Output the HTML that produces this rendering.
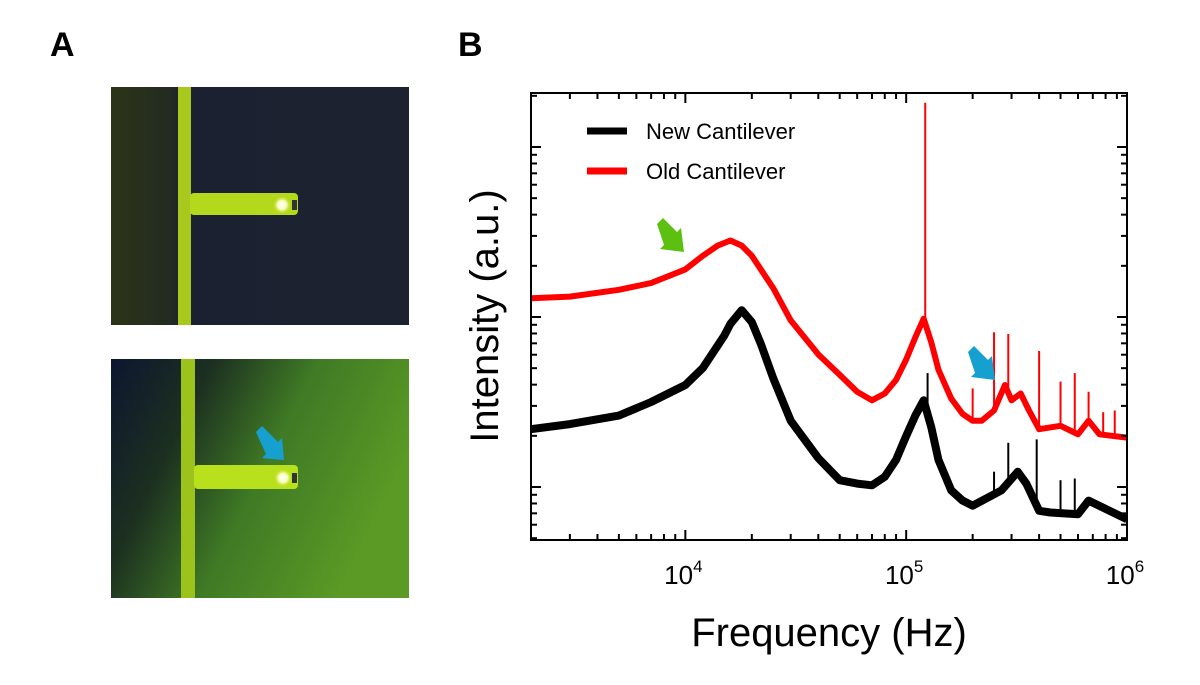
<!DOCTYPE html>
<html><head><meta charset="utf-8"><style>
body{margin:0;background:#fff;width:1200px;height:685px;overflow:hidden;font-family:"Liberation Sans",sans-serif}
.lbl{position:absolute;font-weight:bold;font-size:34px}
</style></head><body>
<div class="lbl" style="left:50px;top:26px">A</div>
<div class="lbl" style="left:458px;top:26px">B</div>
<svg width="1200" height="685" style="position:absolute;left:0;top:0">
<defs>
<linearGradient id="tl" x1="0" x2="1"><stop offset="0" stop-color="#2c3418"/><stop offset="0.2" stop-color="#232b22"/><stop offset="0.25" stop-color="#1b2130"/><stop offset="1" stop-color="#1c2230"/></linearGradient>
<linearGradient id="bl" x1="0" y1="0" x2="1" y2="0.4"><stop offset="0" stop-color="#0d1530"/><stop offset="0.3" stop-color="#1c3020"/><stop offset="0.6" stop-color="#3f7a25"/><stop offset="1" stop-color="#5a9a25"/></linearGradient>
<radialGradient id="spot"><stop offset="0" stop-color="#fff"/><stop offset="0.5" stop-color="#f8ffc0"/><stop offset="1" stop-color="#c8e020" stop-opacity="0"/></radialGradient>
</defs>
<g>
<rect x="111" y="87" width="298" height="238" fill="url(#tl)"/>
<rect x="178" y="87" width="13" height="238" fill="#a8c81e"/>
<rect x="190" y="193" width="108" height="22" rx="4" fill="#b4d81c"/>
<circle cx="282" cy="205" r="9" fill="url(#spot)"/>
<rect x="292" y="200" width="5" height="10" fill="#333"/>
</g>
<g>
<rect x="111" y="359" width="298" height="239" fill="url(#bl)"/>
<rect x="181" y="359" width="14" height="239" fill="#9cc21c"/>
<rect x="194" y="465" width="104" height="24" rx="4" fill="#b8e01c"/>
<circle cx="283" cy="478" r="9" fill="url(#spot)"/>
<rect x="292" y="473" width="5" height="10" fill="#333"/>
<polygon points="256,432 262,426 278,442 282,438 284,460 262,458 266,454" fill="#16a0d0"/>
</g>
<g id="chart"></g>
</svg>
<script>
const redFreq=[2000,3000,5000,7000,10000,12000,14000,16000,18000,20000,25000,30000,40000,50000,60000,70000,80000,90000,100000,110000,120000,130000,140000,160000,180000,200000,220000,250000,280000,300000,330000,360000,400000,500000,600000,670000,750000,1000000];
const redVal=[1.11,1.12,1.16,1.20,1.28,1.36,1.42,1.45,1.42,1.36,1.17,0.98,0.78,0.66,0.56,0.51,0.55,0.63,0.75,0.88,0.99,0.85,0.69,0.52,0.43,0.39,0.39,0.45,0.60,0.51,0.55,0.45,0.34,0.36,0.31,0.39,0.31,0.29];
const redSpikeFreq=[122000,200000,250000,290000,400000,500000,580000,670000,780000,880000];
const redSpikeVal=[2.26,0.58,0.91,0.90,0.80,0.62,0.67,0.56,0.44,0.45];
const blackFreq=[2000,3000,5000,7000,10000,12000,15000,16000,18000,20000,22000,25000,30000,40000,50000,60000,70000,80000,90000,100000,110000,120000,130000,140000,160000,180000,200000,270000,320000,350000,400000,450000,600000,670000,1000000];
const blackVal=[0.34,0.37,0.42,0.50,0.60,0.70,0.89,0.96,1.04,0.97,0.84,0.64,0.39,0.17,0.04,0.02,0.01,0.06,0.16,0.30,0.42,0.51,0.35,0.16,-0.02,-0.08,-0.11,-0.02,0.09,0.02,-0.14,-0.15,-0.16,-0.08,-0.19];
const blackSpikeFreq=[125000,250000,290000,390000,500000,580000];
const blackSpikeVal=[0.67,0.09,0.26,0.28,0.04,0.05];
const xTicks=[10000,100000,1000000];
const xTickLabels=["4","5","6"];

const L=531,R=1127,T=93,B=540;
const lx0=Math.log10(2000),lx1=6;
const X=f=>L+(Math.log10(f)-lx0)/(lx1-lx0)*(R-L);
const Y=v=>487-v*170;
const NS='http://www.w3.org/2000/svg';
const g=document.getElementById('chart');
function el(t,a,p){const e=document.createElementNS(NS,t);for(const k in a)e.setAttribute(k,a[k]);(p||g).appendChild(e);return e;}

const cp=el('clipPath',{id:'cp'});el('rect',{x:L,y:T,width:R-L,height:B-T},cp);

function series(fr,vals,col,w,name){
  const p=el('polyline',{points:fr.map((f,i)=>X(f)+','+Y(vals[i])).join(' '),fill:'none',stroke:col,'stroke-width':w,'stroke-linejoin':'round','clip-path':'url(#cp)'});
  
  
}
function spikes(fr,vals,base,bv,col,name){
  fr.forEach((f,i)=>{
    let b=0;for(let j=0;j<base.length-1;j++){if(f>=base[j]&&f<=base[j+1]){const t=(Math.log10(f)-Math.log10(base[j]))/(Math.log10(base[j+1])-Math.log10(base[j]));b=bv[j]+t*(bv[j+1]-bv[j]);}}
    const l=el('line',{x1:X(f),x2:X(f),y1:Y(b),y2:Y(vals[i]),stroke:col,'stroke-width':2});
    
    
  });
}
series(blackFreq,blackVal,'#000',8,'new-cantilever-line');
spikes(blackSpikeFreq,blackSpikeVal,blackFreq,blackVal,'#000','new-cantilever-spike');
series(redFreq,redVal,'#f00',6,'old-cantilever-line');
spikes(redSpikeFreq,redSpikeVal,redFreq,redVal,'#f00','old-cantilever-spike');

const fr=el('rect',{x:L,y:T,width:R-L,height:B-T,fill:'none',stroke:'#000','stroke-width':2});


for(let d=3;d<6;d++)for(let m=1;m<10;m++){const f=m*Math.pow(10,d);if(f<2000)continue;const x=X(f);const len=m==1?10:6;
 el('line',{x1:x,x2:x,y1:B,y2:B-len,stroke:'#000','stroke-width':2});el('line',{x1:x,x2:x,y1:T,y2:T+len,stroke:'#000','stroke-width':2});}
xTicks.forEach((f,i)=>{const t=el('text',{x:X(f)-2,y:584,'font-size':26,'text-anchor':'middle','font-family':'Liberation Sans'});t.textContent='10';
 const s=el('tspan',{dy:-12,'font-size':17},t);s.textContent=xTickLabels[i];
 });
for(let d=-1;d<3;d++)for(let m=1;m<10;m++){const v=d+Math.log10(m);const y=Y(v);if(y<T||y>B)continue;const len=m==1?10:6;
 el('line',{x1:L,x2:L+len,y1:y,y2:y,stroke:'#000','stroke-width':2});el('line',{x1:R,x2:R-len,y1:y,y2:y,stroke:'#000','stroke-width':2});}
const xt=el('text',{x:829,y:646,'font-size':40,'text-anchor':'middle','font-family':'Liberation Sans'});xt.textContent='Frequency (Hz)';

const yt=el('text',{x:0,y:0,'font-size':40,'text-anchor':'middle','font-family':'Liberation Sans',transform:'translate(498,316) rotate(-90)'});yt.textContent='Intensity (a.u.)';

[['New Cantilever','#000',131],['Old Cantilever','#f00',171]].forEach(([n,c,y])=>{
 const l=el('line',{x1:587,x2:627,y1:y,y2:y,stroke:c,'stroke-width':7});
 const t=el('text',{x:646,y:y+8,'font-size':22,'font-family':'Liberation Sans'});t.textContent=n;});
function arrow(x,y,col,name){const p=el('polygon',{points:`${x},${y} ${x+6},${y-6} ${x+20},${y+8} ${x+24},${y+4} ${x+27},${y+28} ${x+3},${y+25} ${x+7},${y+21}`,fill:col});
 }
arrow(657,224,'#5cc010','green-arrow');
arrow(968,352,'#16a0d0','blue-arrow');
</script>
</body></html>
